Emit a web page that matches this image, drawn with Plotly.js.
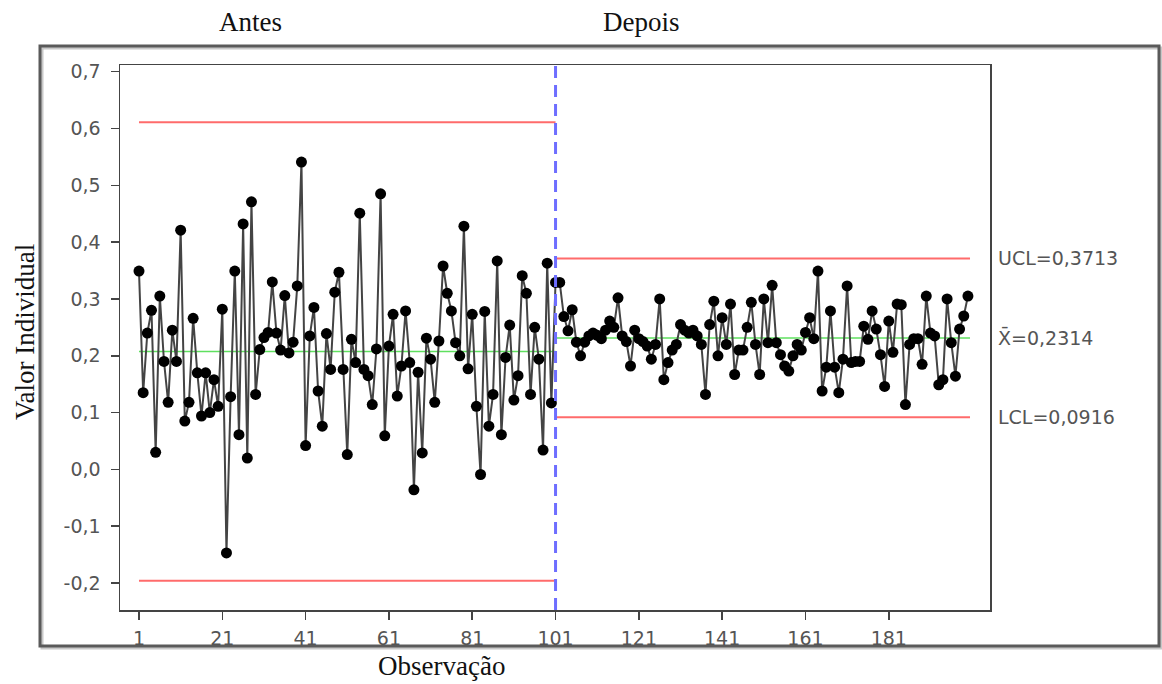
<!DOCTYPE html>
<html>
<head>
<meta charset="utf-8">
<script src="https://cdn.plot.ly/plotly-3.0.1.min.js"></script>
<style>
html,body{margin:0;padding:0;background:#fff;}
#chart{width:1162px;height:684px;}
</style>
</head>
<body>
<div id="chart"></div>
<script>
// ---- Data (Individual values, two stages) ----
const stageNames = ["Antes", "Depois"];

const valuesAntes = [
  0.349, 0.135, 0.240, 0.280, 0.030, 0.305, 0.190, 0.118, 0.245, 0.190,
  0.421, 0.085, 0.118, 0.266, 0.170, 0.094, 0.170, 0.100, 0.158, 0.111,
  0.282, -0.147, 0.128, 0.349, 0.061, 0.432, 0.020, 0.471, 0.132, 0.211,
  0.232, 0.241, 0.330, 0.240, 0.210, 0.306, 0.205, 0.224, 0.323, 0.541,
  0.042, 0.235, 0.285, 0.138, 0.076, 0.239, 0.176, 0.312, 0.347, 0.176,
  0.026, 0.229, 0.188, 0.451, 0.176, 0.165, 0.114, 0.212, 0.485, 0.059,
  0.217, 0.273, 0.129, 0.182, 0.279, 0.188, -0.036, 0.171, 0.029, 0.231,
  0.194, 0.118, 0.226, 0.358, 0.310, 0.279, 0.223, 0.200, 0.428, 0.177,
  0.273, 0.111, -0.009, 0.278, 0.076, 0.132, 0.367, 0.061, 0.197, 0.254,
  0.122, 0.165, 0.341, 0.310, 0.132, 0.250, 0.194, 0.034, 0.363, 0.117
];

const valuesDepois = [
  0.329, 0.329, 0.269, 0.244, 0.281, 0.224, 0.200, 0.224, 0.235, 0.240,
  0.236, 0.230, 0.245, 0.261, 0.250, 0.302, 0.235, 0.225, 0.182, 0.245,
  0.230, 0.225, 0.217, 0.194, 0.220, 0.300, 0.158, 0.188, 0.210, 0.220,
  0.255, 0.245, 0.240, 0.245, 0.235, 0.220, 0.132, 0.255, 0.296, 0.200,
  0.267, 0.220, 0.291, 0.167, 0.210, 0.210, 0.250, 0.294, 0.220, 0.167,
  0.300, 0.223, 0.324, 0.223, 0.202, 0.182, 0.173, 0.200, 0.220, 0.210,
  0.241, 0.267, 0.230, 0.349, 0.138, 0.180, 0.279, 0.180, 0.135, 0.194,
  0.323, 0.188, 0.190, 0.190, 0.252, 0.229, 0.279, 0.247, 0.202, 0.146,
  0.261, 0.206, 0.291, 0.290, 0.114, 0.220, 0.230, 0.230, 0.185, 0.305,
  0.240, 0.235, 0.149, 0.158, 0.300, 0.223, 0.164, 0.247, 0.270, 0.305
];

// control limits per stage (Antes, Depois)
const stageUCL = [0.611, 0.3713];
const stageCL  = [0.2077, 0.2314];
const stageLCL = [-0.196, 0.0916];
// first / last observation spanned by each stage's limit lines
const stageFrom = [1, 101];
const stageTo   = [101, 200.5];

const xTickVals = [1, 21, 41, 61, 81, 101, 121, 141, 161, 181];
const yTickVals = [-0.2, -0.1, 0.0, 0.1, 0.2, 0.3, 0.4, 0.5, 0.6, 0.7];
const yTickText = ["-0,2", "-0,1", "0,0", "0,1", "0,2", "0,3", "0,4", "0,5", "0,6", "0,7"];

const labelUCL = "UCL=0,3713";
const labelCL  = "X\u0304=0,2314";
const labelLCL = "LCL=0,0916";

// ---- Build traces ----
const allValues = valuesAntes.concat(valuesDepois);
const obs = allValues.map((_, i) => i + 1);

const traces = [];
for (let s = 0; s < 2; s++) {
  const xs = [stageFrom[s], stageTo[s]];
  traces.push({x: xs, y: [stageUCL[s], stageUCL[s]], mode: "lines",
    line: {color: "#ff6b6b", width: 2}, hoverinfo: "skip", showlegend: false});
  traces.push({x: xs, y: [stageLCL[s], stageLCL[s]], mode: "lines",
    line: {color: "#ff6b6b", width: 2}, hoverinfo: "skip", showlegend: false});
  traces.push({x: xs, y: [stageCL[s], stageCL[s]], mode: "lines",
    line: {color: "#5fe05f", width: 1.5}, hoverinfo: "skip", showlegend: false});
}
traces.push({
  x: obs, y: allValues, mode: "lines+markers",
  line: {color: "#444", width: 2},
  marker: {color: "#000", size: 11},
  showlegend: false, hoverinfo: "x+y"
});

// ---- Geometry helpers (pixel -> paper) ----
const L = 120, R = 990, T = 65, B = 610;
const px = p => (p - L) / (R - L);
const py = p => (B - p) / (B - T);

const serif = "Liberation Serif, Times New Roman, serif";
const sans = "DejaVu Sans, Verdana, sans-serif";

const layout = {
  width: 1162, height: 684,
  margin: {l: L, r: 1162 - R, t: T, b: 684 - B, pad: 0},
  paper_bgcolor: "#fff", plot_bgcolor: "#fff",
  showlegend: false,
  xaxis: {
    range: [-3.56, 205.3], tickmode: "array", tickvals: xTickVals,
    showgrid: false, zeroline: false,
    showline: true, mirror: true, linecolor: "#444", linewidth: 1.5,
    ticks: "outside", ticklen: 8, tickcolor: "#444", tickwidth: 1.5,
    ticklabelstandoff: 3,
    tickfont: {family: sans, size: 19, color: "#555"}
  },
  yaxis: {
    range: [-0.2475, 0.7118], tickmode: "array", tickvals: yTickVals,
    ticktext: yTickText,
    showgrid: false, zeroline: false,
    showline: true, mirror: true, linecolor: "#444", linewidth: 1.5,
    ticks: "outside", ticklen: 8, tickcolor: "#444", tickwidth: 1.5,
    ticklabelstandoff: 6,
    tickfont: {family: sans, size: 19, color: "#555"}
  },
  shapes: [
    {type: "rect", xref: "paper", yref: "paper",
     x0: px(42), x1: px(1161), y0: py(48), y1: py(648),
     line: {color: "#c8c8c8", width: 3}, layer: "below"},
    {type: "rect", xref: "paper", yref: "paper",
     x0: px(40), x1: px(1159), y0: py(46), y1: py(646),
     line: {color: "#5a5a5a", width: 3}, layer: "below"},
    {type: "line", xref: "x", yref: "paper",
     x0: stageFrom[1], x1: stageFrom[1], y0: 0, y1: 1,
     line: {color: "#6e6eff", width: 3, dash: "12px,7px"}}
  ],
  annotations: [
    {text: stageNames[0], xref: "paper", yref: "paper", x: px(250), y: py(22),
     xanchor: "center", yanchor: "middle", showarrow: false,
     font: {family: serif, size: 27, color: "#111"}},
    {text: stageNames[1], xref: "paper", yref: "paper", x: px(641), y: py(22),
     xanchor: "center", yanchor: "middle", showarrow: false,
     font: {family: serif, size: 27, color: "#111"}},
    {text: "Observação", xref: "paper", yref: "paper", x: px(441), y: py(666),
     xanchor: "center", yanchor: "middle", showarrow: false,
     font: {family: serif, size: 27, color: "#111"}},
    {text: "Valor Individual", xref: "paper", yref: "paper", x: px(25), y: py(332),
     xanchor: "center", yanchor: "middle", showarrow: false, textangle: -90,
     font: {family: serif, size: 27, color: "#111"}},
    {text: labelUCL, xref: "paper", yref: "y", x: px(996), y: stageUCL[1],
     xanchor: "left", yanchor: "middle", showarrow: false,
     font: {family: sans, size: 19, color: "#555"}},
    {text: labelCL, xref: "paper", yref: "y", x: px(996), y: stageCL[1],
     xanchor: "left", yanchor: "middle", showarrow: false,
     font: {family: sans, size: 19, color: "#555"}},
    {text: labelLCL, xref: "paper", yref: "y", x: px(996), y: stageLCL[1],
     xanchor: "left", yanchor: "middle", showarrow: false,
     font: {family: sans, size: 19, color: "#555"}}
  ]
};

Plotly.newPlot("chart", traces, layout, {displayModeBar: false, staticPlot: true});
</script>
</body>
</html>
